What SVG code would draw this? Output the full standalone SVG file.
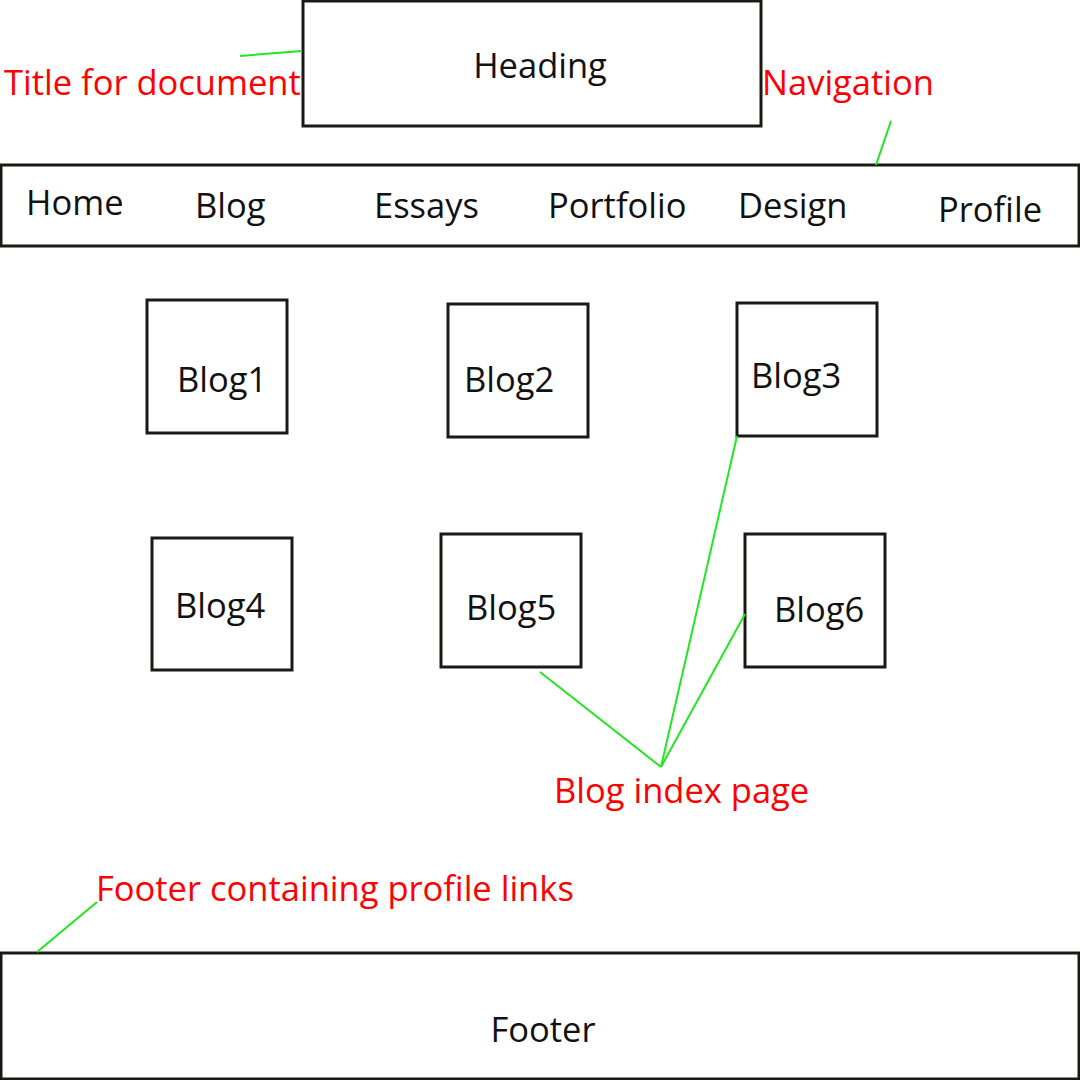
<svg xmlns="http://www.w3.org/2000/svg" width="1080" height="1080" viewBox="0 0 1080 1080">
  <style>
    .box { fill: #fff; stroke: #1a1a14; stroke-width: 3; }
    .lbl { font-family: "Open Sans", "Noto Sans", "DejaVu Sans", sans-serif; font-size: 34.5px; fill: #111; }
    .note { font-family: "Open Sans", "Noto Sans", "DejaVu Sans", sans-serif; font-size: 34.5px; fill: #ff0000; }
    .lead { stroke: #22e622; stroke-width: 2; fill: none; }
  </style>
  <rect width="1080" height="1080" fill="#fff"/>

  <g id="heading">
    <rect class="box" x="303" y="1" width="458" height="125"/>
    <text class="lbl" x="540" y="78" text-anchor="middle">Heading</text>
  </g>

  <g id="navigation">
    <rect class="box" x="1" y="165" width="1078" height="81"/>
    <text class="lbl" x="26" y="215">Home</text>
    <text class="lbl" x="195" y="218">Blog</text>
    <text class="lbl" x="374" y="218">Essays</text>
    <text class="lbl" x="548" y="218">Portfolio</text>
    <text class="lbl" x="738" y="218">Design</text>
    <text class="lbl" x="938" y="222">Profile</text>
  </g>

  <g id="blog1">
    <rect class="box" x="147" y="300" width="140" height="133"/>
    <text class="lbl" x="177" y="392">Blog1</text>
  </g>
  <g id="blog2">
    <rect class="box" x="448" y="304" width="140" height="133"/>
    <text class="lbl" x="464" y="392">Blog2</text>
  </g>
  <g id="blog3">
    <rect class="box" x="737" y="303" width="140" height="133"/>
    <text class="lbl" x="751" y="388">Blog3</text>
  </g>
  <g id="blog4">
    <rect class="box" x="152" y="538" width="140" height="132"/>
    <text class="lbl" x="175" y="618">Blog4</text>
  </g>
  <g id="blog5">
    <rect class="box" x="441" y="534" width="140" height="133"/>
    <text class="lbl" x="466" y="620">Blog5</text>
  </g>
  <g id="blog6">
    <rect class="box" x="745" y="534" width="140" height="133"/>
    <text class="lbl" x="774" y="622">Blog6</text>
  </g>

  <g id="footer">
    <rect class="box" x="1" y="953" width="1078" height="126"/>
    <text class="lbl" x="543" y="1042" text-anchor="middle">Footer</text>
  </g>

  <g id="notes">
    <text class="note" x="4" y="95">Title for document</text>
    <text class="note" x="762" y="95">Navigation</text>
    <text class="note" x="554" y="803">Blog index page</text>
    <text class="note" x="96" y="901">Footer containing profile links</text>
  </g>

  <g id="connectors">
    <line class="lead" x1="240" y1="56" x2="302" y2="51"/>
    <line class="lead" x1="891" y1="121" x2="876" y2="165"/>
    <line class="lead" x1="540" y1="672" x2="661" y2="767"/>
    <line class="lead" x1="737" y1="436" x2="661" y2="767"/>
    <line class="lead" x1="745" y1="614" x2="661" y2="767"/>
    <line class="lead" x1="97" y1="902" x2="37" y2="952"/>
  </g>
</svg>
